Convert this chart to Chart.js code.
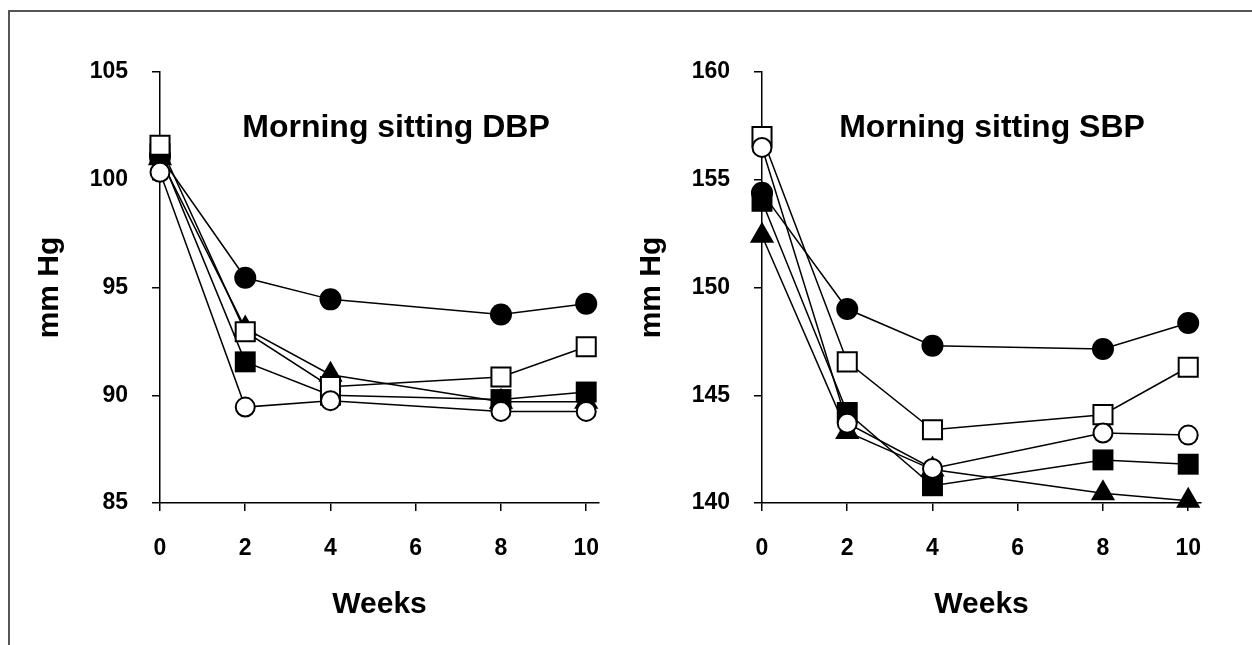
<!DOCTYPE html>
<html>
<head>
<meta charset="utf-8">
<script src="https://cdn.jsdelivr.net/npm/chart.js@4/dist/chart.umd.min.js"></script>
<style>
    body { margin: 0; background: #fff; width: 1252px; height: 645px; overflow: hidden; position: relative; font-family: "Liberation Sans", Arial, sans-serif; }
    .frame { position: absolute; left: 8px; top: 10px; width: 1300px; height: 700px; border-left: 2px solid #555; border-top: 2px solid #555; }
    .box { position: absolute; top: 0; width: 626px; height: 645px; }
    .inner-title { position: absolute; top: 108px; font-weight: bold; font-size: 32px; color: #000; white-space: nowrap; transform: translateX(-50%); }
</style>
</head>
<body>
<div class="frame"></div>
<div class="box" style="left:0"><canvas id="dbpChart" width="626" height="645"></canvas></div>
<div class="box" style="left:602px"><canvas id="sbpChart" width="626" height="645"></canvas></div>
<div class="inner-title" style="left:396px">Morning sitting DBP</div>
<div class="inner-title" style="left:992px">Morning sitting SBP</div>
<script>
    // Weeks of treatment
    const weeks = [0, 2, 4, 8, 10];
    const weekTicks = [0, 2, 4, 6, 8, 10];

    // Diastolic (left panel)
    const dbpTicks = [85, 90, 95, 100, 105];
    const dbpFilledCircle = [101.1, 95.45, 94.45, 93.75, 94.25];
    const dbpOpenSquare   = [101.6, 92.95, 90.4, 90.85, 92.25];
    const dbpFilledSquare = [101.2, 91.55, 90.0, 89.8, 90.15];
    const dbpTriangle     = [101.0, 93.1, 90.95, 89.7, 89.7];
    const dbpOpenCircle   = [100.35, 89.45, 89.75, 89.25, 89.25];

    // Systolic (right panel)
    const sbpTicks = [140, 145, 150, 155, 160];
    const sbpFilledCircle = [154.4, 149.0, 147.3, 147.15, 148.35];
    const sbpOpenSquare   = [157.0, 146.55, 143.4, 144.1, 146.3];
    const sbpFilledSquare = [154.0, 144.2, 140.8, 142.0, 141.8];
    const sbpTriangle     = [152.4, 143.3, 141.55, 140.45, 140.1];
    const sbpOpenCircle   = [156.5, 143.7, 141.6, 143.25, 143.15];

    const FONT = '"Liberation Sans", Arial, sans-serif';

    function series(values, style, filled, radius) {
        return {
            data: values.map((v, i) => ({ x: weeks[i], y: v })),
            borderColor: '#000',
            borderWidth: 1.5,
            pointStyle: style,
            pointRadius: radius,
            pointHoverRadius: radius,
            pointBackgroundColor: filled ? '#000' : '#fff',
            pointBorderColor: '#000',
            pointBorderWidth: filled ? 0 : 2,
            tension: 0,
            clip: false
        };
    }

    function makeChart(id, ticks, rows) {
        const ctx = document.getElementById(id).getContext('2d');
        new Chart(ctx, {
            type: 'line',
            data: {
                // first dataset ends up on top
                datasets: [
                    series(rows.openCircle, 'circle', false, 9.5),
                    series(rows.openSquare, 'rect', false, 13.5),
                    series(rows.filledCircle, 'circle', true, 11),
                    series(rows.filledSquare, 'rect', true, 14.8),
                    series(rows.triangle, 'triangle', true, 14)
                ]
            },
            options: {
                responsive: false,
                animation: false,
                layout: { padding: { top: 72, left: 0, right: 27, bottom: 0 } },
                plugins: { legend: { display: false }, tooltip: { enabled: false } },
                scales: {
                    x: {
                        type: 'linear',
                        min: 0,
                        max: 10.3,
                        afterBuildTicks: s => { s.ticks = weekTicks.map(v => ({ value: v })); },
                        afterFit: s => { s.height = 142; },
                        border: { display: true, color: '#000', width: 1.5 },
                        grid: { drawOnChartArea: false, drawTicks: true, tickLength: 8, color: '#000', lineWidth: 1.5 },
                        ticks: { color: '#000', padding: 24, maxRotation: 0, font: { family: FONT, size: 23, weight: 'bold' } },
                        title: { display: true, text: 'Weeks', color: '#000', padding: { top: 0, bottom: 22 }, font: { family: FONT, size: 30, weight: 'bold' } }
                    },
                    y: {
                        min: ticks[0],
                        max: ticks[ticks.length - 1],
                        afterBuildTicks: s => { s.ticks = ticks.map(v => ({ value: v })); },
                        afterFit: s => { s.width = 160; },
                        border: { display: true, color: '#000', width: 1.5 },
                        grid: { drawOnChartArea: false, drawTicks: true, tickLength: 8, color: '#000', lineWidth: 1.5 },
                        ticks: { color: '#000', padding: 24, font: { family: FONT, size: 23, weight: 'bold' } },
                        title: { display: true, text: 'mm Hg', color: '#000', padding: { top: 32, bottom: 0 }, font: { family: FONT, size: 30, weight: 'bold' } }
                    }
                }
            }
        });
    }

    makeChart('dbpChart', dbpTicks, {
        filledCircle: dbpFilledCircle, openSquare: dbpOpenSquare, filledSquare: dbpFilledSquare,
        triangle: dbpTriangle, openCircle: dbpOpenCircle
    });
    makeChart('sbpChart', sbpTicks, {
        filledCircle: sbpFilledCircle, openSquare: sbpOpenSquare, filledSquare: sbpFilledSquare,
        triangle: sbpTriangle, openCircle: sbpOpenCircle
    });
</script>
</body>
</html>
